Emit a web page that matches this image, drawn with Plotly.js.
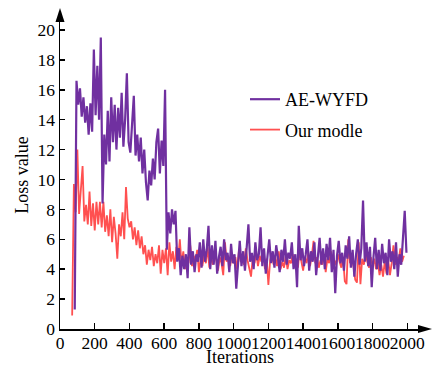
<!DOCTYPE html>
<html>
<head>
<meta charset="utf-8">
<script src="https://cdn.plot.ly/plotly-3.0.1.min.js"></script>
<style>
html,body{margin:0;padding:0;background:#fff;}
#chart{width:440px;height:367px;}
</style>
</head>
<body>
<div id="chart"></div>
<script>
// ---- data ----
const seriesNames = ["AE-WYFD", "Our modle"];
const xTickVals = [0, 200, 400, 600, 800, 1000, 1200, 1400, 1600, 1800, 2000];
const yTickVals = [0, 2, 4, 6, 8, 10, 12, 14, 16, 18, 20];

// AE-WYFD: first iteration 85, one value every 10 iterations
const aeStart = 85, aeStep = 10;
const aeValues = [
  1.3, 16.6, 15.0, 16.1, 14.2, 15.5, 13.8, 14.9, 13.0, 15.1,
  13.2, 18.7, 14.3, 17.6, 14.0, 19.5, 8.4, 13.0, 11.0, 14.6,
  11.2, 15.5, 12.5, 15.0, 12.0, 14.8, 12.8, 15.8, 12.2, 14.0,
  17.1, 12.5, 11.8, 14.0, 15.6, 11.6, 13.0, 11.2, 12.8, 10.4,
  12.0, 9.8, 8.6, 10.6, 9.6, 11.4, 10.0, 12.5, 13.4, 10.4,
  12.6, 10.9, 16.0, 5.3, 7.8, 6.4, 8.0, 7.0, 7.9, 4.5,
  5.4, 3.6, 4.9, 4.0, 5.0, 3.4, 6.8, 4.3, 5.2, 3.8,
  5.0, 4.5, 5.8, 4.1, 6.0, 4.5, 5.3, 6.9, 4.0, 5.6,
  4.3, 5.9, 3.7, 4.8, 5.5, 4.2, 6.0, 4.6, 5.1, 3.8,
  5.7, 4.4, 5.0, 2.7, 4.6, 5.9, 4.2, 5.2, 3.9, 5.6,
  7.0, 4.5, 5.1, 4.0, 5.8, 4.6, 5.0, 6.8, 4.2, 5.4,
  3.7, 4.9, 6.0, 4.4, 5.2, 4.1, 5.6, 4.8, 3.8, 5.3,
  4.5, 6.0, 4.3, 5.1, 4.7, 5.8, 4.0, 5.0, 2.8, 6.9,
  4.6, 5.4, 4.2, 5.0, 6.0, 3.9, 5.2, 4.5, 5.8, 3.6,
  4.9, 6.1, 4.3, 5.4, 4.0, 5.7, 4.6, 6.1, 3.8, 5.3,
  2.4, 4.9, 5.9, 4.4, 5.1, 3.9, 5.6, 4.7, 6.2, 4.1,
  5.3, 3.5, 5.0, 6.0, 4.3, 5.4, 8.6, 4.5, 5.8, 4.2,
  5.5, 2.8, 4.8, 6.1, 4.0, 5.3, 3.9, 5.7, 4.4, 5.1,
  3.6, 6.0, 4.5, 5.2, 4.0, 5.8, 3.5, 5.0, 4.3, 6.1,
  7.9, 5.1
];

// Our modle: first iteration 70, one value every 10 iterations
const ourStart = 70, ourStep = 10;
const ourValues = [
  0.9, 9.7, 7.8, 12.0, 7.7, 9.3, 10.9, 7.2, 8.3, 7.0,
  9.2, 6.9, 8.4, 6.6, 8.5, 7.0, 8.5, 6.8, 8.5, 6.5,
  7.6, 6.2, 8.0, 5.8, 7.5, 6.4, 4.7, 7.0, 6.2, 7.8,
  6.0, 9.5, 7.4, 6.8, 7.2, 6.0, 6.8, 5.6, 6.6, 5.4,
  6.2, 5.0, 5.6, 4.3, 5.3, 4.6, 5.5, 4.2, 5.0, 4.4,
  5.6, 3.7, 5.3, 4.4, 5.4, 3.6, 5.8, 4.5, 5.2, 4.0,
  5.5, 4.6, 6.0, 4.3, 5.2, 4.0, 4.8, 4.4, 5.6, 4.2,
  4.9, 4.5, 5.3, 3.8, 4.7, 4.2, 5.0, 4.4, 5.5, 4.1,
  4.8, 4.3, 5.1, 4.6, 3.9, 4.8, 4.4, 3.6, 5.8, 4.5,
  4.9, 4.2, 5.0, 4.4, 4.8, 4.0, 5.2, 4.5, 4.9, 4.3,
  5.4, 4.6, 4.1, 3.5, 4.8, 4.4, 5.1, 4.2, 4.9, 4.5,
  5.3, 4.0, 4.7, 2.95, 4.6, 5.0, 4.3, 4.8, 4.2, 5.2,
  4.0, 4.5, 4.1, 4.9, 4.0, 4.6, 4.4, 5.0, 4.3, 4.7,
  4.1, 5.3, 4.5, 3.9, 4.8, 4.4, 5.1, 4.2, 4.9, 5.9,
  4.4, 4.8, 4.1, 4.6, 4.3, 5.0, 3.8, 4.7, 4.4, 5.2,
  4.0, 4.6, 4.3, 5.0, 4.5, 4.1, 4.8, 3.2, 3.0, 6.0,
  4.4, 4.9, 4.2, 3.3, 3.1, 5.8, 3.0, 4.7, 4.3, 5.0,
  4.5, 4.1, 4.8, 4.2, 4.7, 4.0, 4.5, 3.6, 4.3, 3.5,
  4.5, 3.7, 4.6, 3.6, 4.4, 5.6, 4.3, 4.8, 4.6, 5.4,
  4.5, 4.9
];

const aeX = aeValues.map((_, i) => aeStart + i * aeStep);
const ourX = ourValues.map((_, i) => ourStart + i * ourStep);

const FONT = "Liberation Serif, Times New Roman, serif";
const PURPLE = "#7030A0";
const RED = "#FF5050";

const traces = [
  {
    x: ourX, y: ourValues, name: seriesNames[1], type: "scatter", mode: "lines",
    line: {color: RED, width: 1.8}, legendgroup: "b", legendrank: 2
  },
  {
    x: aeX, y: aeValues, name: seriesNames[0], type: "scatter", mode: "lines",
    line: {color: PURPLE, width: 2.2}, legendgroup: "a", legendrank: 1
  }
];

const L = 60, R = 20, T = 21, B = 38;

const layout = {
  width: 440, height: 367,
  margin: {l: L, r: R, t: T, b: B, pad: 0},
  paper_bgcolor: "#fff", plot_bgcolor: "#fff",
  font: {family: FONT, size: 17, color: "#000"},
  showlegend: true,
  legend: {
    x: (245 - L) / (440 - L - R), y: 1 - (81 - T) / (367 - T - B),
    xanchor: "left", yanchor: "top",
    traceorder: "grouped", tracegroupgap: 4,
    bgcolor: "rgba(0,0,0,0)", borderwidth: 0,
    font: {family: FONT, size: 18, color: "#000"}
  },
  xaxis: {
    range: [0, 2073], tickvals: xTickVals, ticktext: xTickVals.map(String),
    tickangle: 0, showgrid: false, zeroline: false,
    showline: true, linecolor: "#000", linewidth: 1.5,
    ticks: "inside", ticklen: 6, tickwidth: 1.5, tickcolor: "#000",
    ticklabelstandoff: -3,
    tickfont: {family: FONT, size: 17.5, color: "#000"},
    title: {text: "Iterations", font: {family: FONT, size: 18, color: "#000"}, standoff: 7}
  },
  yaxis: {
    range: [0, 20.6], tickvals: yTickVals, ticktext: yTickVals.map(String),
    showgrid: false, zeroline: false,
    showline: true, linecolor: "#000", linewidth: 1.5,
    ticks: "inside", ticklen: 5, tickwidth: 1.5, tickcolor: "#000",
    tickfont: {family: FONT, size: 17.5, color: "#000"},
    title: {text: "Loss value", font: {family: FONT, size: 18, color: "#000"}, standoff: 4}
  },
  shapes: [
    { // x-axis arrow head
      type: "path", xref: "paper", yref: "paper",
      xsizemode: "pixel", ysizemode: "pixel", xanchor: 1, yanchor: 0,
      path: "M-2,4 L12,0 L-2,-4 Z", fillcolor: "#000", line: {width: 0}
    },
    { // y-axis arrow head
      type: "path", xref: "paper", yref: "paper",
      xsizemode: "pixel", ysizemode: "pixel", xanchor: 0, yanchor: 1,
      path: "M-4.5,-1 L0,13 L4.5,-1 Z", fillcolor: "#000", line: {width: 0}
    }
  ],
  annotations: [
    { // panel label, mostly cut off at the top of the picture
      text: "(a)", xref: "paper", yref: "paper",
      x: (202 - L) / (440 - L - R), y: 1, xanchor: "center", yanchor: "bottom",
      yshift: 19, showarrow: false,
      font: {family: FONT, size: 17, color: "#000"}
    }
  ]
};

Plotly.newPlot("chart", traces, layout, {displayModeBar: false, staticPlot: true});
</script>
</body>
</html>
